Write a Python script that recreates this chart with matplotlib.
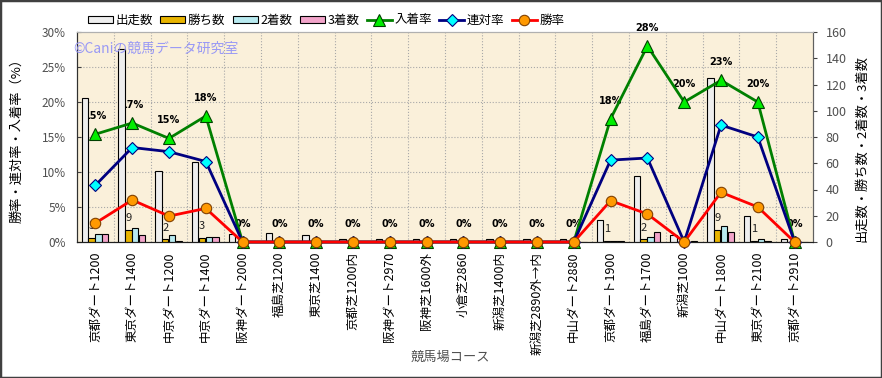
import matplotlib
matplotlib.use("Agg")
import matplotlib.pyplot as plt
import numpy as np
from matplotlib.patches import Rectangle
from matplotlib.transforms import blended_transform_factory

plt.rcParams['font.family'] = ['Noto Sans CJK JP', 'DejaVu Sans']

courses = ["京都ダート1200", "東京ダート1400", "中京ダート1200", "中京ダート1400",
           "阪神ダート2000", "福島芝1200", "東京芝1400", "京都芝1200内",
           "阪神ダート2970", "阪神芝1600外", "小倉芝2860", "新潟芝1400内",
           "新潟芝2890外→内", "中山ダート2880", "京都ダート1900", "福島ダート1700",
           "新潟芝1000", "中山ダート1800", "東京ダート2100", "京都ダート2910"]

starts = [110, 147, 54, 61, 6, 7, 5, 2, 2, 2, 2, 2, 2, 2, 17, 50, 5, 125, 20, 2]
wins = [3, 9, 2, 3, 0, 0, 0, 0, 0, 0, 0, 0, 0, 0, 1, 2, 0, 9, 1, 0]
seconds = [6, 11, 5, 4, 0, 0, 0, 0, 0, 0, 0, 0, 0, 0, 1, 4, 0, 12, 2, 0]
thirds = [6, 5, 1, 4, 0, 0, 0, 0, 0, 0, 0, 0, 0, 0, 1, 8, 1, 8, 1, 0]

place_rate = [15.4, 17.0, 14.8, 18.0, 0, 0, 0, 0, 0, 0, 0, 0, 0, 0, 17.6, 28.0, 20.0, 23.1, 20.0, 0]
rentai_rate = [8.1, 13.5, 12.9, 11.5, 0, 0, 0, 0, 0, 0, 0, 0, 0, 0, 11.7, 12.0, 0, 16.7, 15.0, 0]
win_rate = [2.7, 6.0, 3.7, 4.8, 0, 0, 0, 0, 0, 0, 0, 0, 0, 0, 5.9, 4.0, 0, 7.1, 5.0, 0]

W, H = 882, 378
fig = plt.figure(figsize=(W / 100, H / 100), dpi=100)
fig.patch.set_facecolor("white")

ax = fig.add_axes([77 / W, 1 - 242 / H, 736 / W, 210 / H])
ax2 = ax.twinx()
ax.set_zorder(2)
ax.patch.set_visible(False)
ax2.set_zorder(1)
ax2.patch.set_visible(True)
ax2.set_facecolor("#FAF0DA")

x = np.arange(len(courses))
ax.set_xlim(-0.5, len(courses) - 0.5)
ax.set_ylim(0, 30)
ax2.set_ylim(0, 160)

# grid (behind the bars)
tr = blended_transform_factory(ax2.transAxes, ax.transData)
for p in range(5, 30, 5):
    ax2.plot([0, 1], [p, p], transform=tr, ls=":", color="#A8A8A8", lw=0.8, zorder=1)
for b in np.arange(0.5, len(courses) - 0.5, 1):
    ax2.axvline(b, ls=":", color="#A8A8A8", lw=0.8, zorder=1)

# bars
offsets = [-0.2875, -0.1025, 0.0825, 0.2675]
bw = 0.175
series = [(starts, "出走数", "#EEEEEE"), (wins, "勝ち数", "#E8B400"),
          (seconds, "2着数", "#B8EAF0"), (thirds, "3着数", "#F2A4CA")]
bar_handles = []
for (vals, lab, col), off in zip(series, offsets):
    h = ax2.bar(x + off, vals, bw, color=col, edgecolor="black", linewidth=0.8,
                zorder=3, label=lab)
    bar_handles.append(h)

# win count labels
for xi, w in zip(x, wins):
    if w > 0:
        ax2.annotate(str(w), xy=(xi + offsets[1], w), xytext=(0, 8.5),
                     textcoords="offset points", ha="center", va="center",
                     fontsize=8, color="#202020", zorder=2)

# percent labels for 入着率
for xi, v in zip(x, place_rate):
    ax2.annotate(f"{v:.0f}%", xy=(xi, v), xycoords=ax.transData, xytext=(0, 13),
                 textcoords="offset points", ha="center", va="center",
                 fontsize=7, fontweight="bold", family="DejaVu Sans",
                 zorder=2, annotation_clip=False)

# lines
l1, = ax.plot(x, place_rate, color="#008000", lw=2, marker="^", ms=8.5,
              mfc="#00EE00", mec="#004000", mew=0.8, clip_on=False, zorder=3, label="入着率")
l2, = ax.plot(x, rentai_rate, color="#000080", lw=2, marker="D", ms=6.5,
              mfc="#00FFFF", mec="#000080", mew=0.8, clip_on=False, zorder=4, label="連対率")
l3, = ax.plot(x, win_rate, color="#FF0000", lw=2, marker="o", ms=7.5,
              mfc="#FF9900", mec="#804000", mew=0.8, clip_on=False, zorder=5, label="勝率")

# axes styling
ax.set_xticks(x)
ax.set_xticklabels(courses, rotation=90, fontsize=9, va="top", ha="center")
ax.tick_params(axis="x", length=0, pad=7)

ax.set_yticks(range(0, 31, 5))
ax.set_yticklabels([f"{v}%" for v in range(0, 31, 5)])
ax.tick_params(axis="y", direction="in", length=3, pad=8, labelsize=8.5,
               labelcolor="#505050", color="#404040")

ax2.set_yticks(range(0, 161, 20))
ax2.tick_params(axis="y", direction="out", length=3, pad=6, labelsize=9,
                labelcolor="#505050", color="#404040")

for a in (ax, ax2):
    a.spines["left"].set_color("#303030")
    a.spines["bottom"].set_color("#202020")
    a.spines["right"].set_color("#606060")
    a.spines["top"].set_color("#B0B0B0")

fig.text(17 / W, 1 - 137 / H, "勝率・連対率・入着率（%）", rotation=90,
         ha="center", va="center", fontsize=9.5)
fig.text(862 / W, 1 - 148 / H, "出走数・勝ち数・2着数・3着数", rotation=90,
         ha="center", va="center", fontsize=9.5)
fig.text(450 / W, 1 - 357 / H, "競馬場コース", ha="center", va="center",
         fontsize=9.5, color="#505050")

fig.text(73 / W, 1 - 49 / H, "©Caniの競馬データ研究室", ha="left", va="center",
         fontsize=10, color="#9999F5")

fig.legend(bar_handles + [l1, l2, l3],
           ["出走数", "勝ち数", "2着数", "3着数", "入着率", "連対率", "勝率"],
           ncol=7, loc="center", bbox_to_anchor=(326 / W, 1 - 20 / H),
           frameon=False, fontsize=9, handlelength=2.0, handleheight=0.5,
           columnspacing=0.6, handletextpad=0.2)

fig.add_artist(Rectangle((0, 0), 1, 1, transform=fig.transFigure, fill=False,
                         edgecolor="#404040", lw=2.5))

fig.savefig("out.png", dpi=100)
